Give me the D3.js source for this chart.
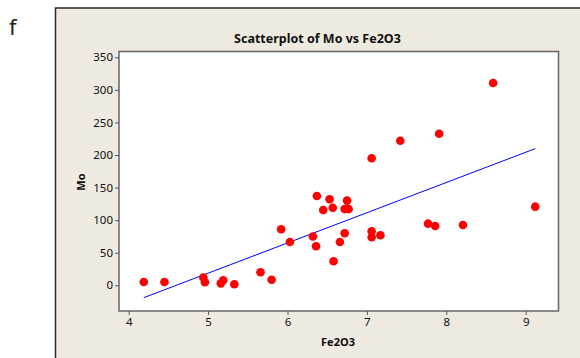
<!DOCTYPE html>
<meta charset="utf-8">
<script src="https://d3js.org/d3.v7.min.js"></script>
<title>Scatterplot of Mo vs Fe2O3</title>
<style>
body { margin: 0; background: #fff; }
svg { font-family: "Noto Sans", "Open Sans", sans-serif; }
</style>
<svg width="580" height="358"></svg>
<script>

// data
var fe2o3 = [4.19, 4.45, 4.94, 4.96, 5.16, 5.19, 5.33, 5.66, 5.80, 5.92,
             6.03, 6.32, 6.36, 6.37, 6.53, 6.45, 6.57, 6.75, 6.72, 6.77,
             6.72, 6.66, 6.58, 7.06, 7.06, 7.17, 7.77, 7.86, 8.21, 9.12,
             8.59, 7.91, 7.42, 7.06];
var mo = [5, 5, 12, 4.6, 3, 7.7, 1.5, 20, 8.6, 86,
          66.5, 75, 60, 137, 132, 115.6, 119, 130, 117, 117,
          80, 66.5, 37, 83, 73.7, 76.8, 94.6, 91, 92.6, 120.7,
          310.6, 232.7, 222, 195];
var xTicks = [4, 5, 6, 7, 8, 9];
var yTicks = [0, 50, 100, 150, 200, 250, 300, 350];
// fitted line Mo = a + b * Fe2O3
var fitIntercept = -213.4, fitSlope = 46.4;

var svg = d3.select("svg");

// panel
svg.append("rect")
    .attr("x", 55.5).attr("y", 8)
    .attr("width", 540).attr("height", 360)
    .attr("fill", "#eeeae0")
    .attr("stroke", "#2a2a2a")
    .attr("stroke-width", 1.5);

svg.append("text")
    .attr("x", 9).attr("y", 35)
    .attr("font-size", 22)
    .attr("fill", "#222")
    .text("f");

var pLeft = 119, pRight = 558.5, pTop = 51.5, pBottom = 311;

var x = d3.scaleLinear().domain([4, 9]).range([128.7, 525.7]);
x.domain([x.invert(pLeft), x.invert(pRight)]).range([pLeft, pRight]);
var y = d3.scaleLinear().domain([0, 350]).range([285.3, 57.3]);
y.domain([y.invert(pBottom), y.invert(pTop)]).range([pBottom, pTop]);

svg.append("rect")
    .attr("x", pLeft).attr("y", pTop)
    .attr("width", pRight - pLeft).attr("height", pBottom - pTop)
    .attr("fill", "#fff")
    .attr("stroke", "#666")
    .attr("stroke-width", 1.5);

svg.append("text")
    .attr("x", 317.5).attr("y", 43)
    .attr("text-anchor", "middle")
    .attr("font-size", 12.5)
    .attr("font-weight", "bold")
    .attr("fill", "#111")
    .text("Scatterplot of Mo vs Fe2O3");

var xAxis = svg.append("g")
    .attr("transform", "translate(0," + pBottom + ")")
    .call(d3.axisBottom(x).tickValues(xTicks).tickSize(4).tickPadding(3).tickFormat(d3.format("d")));
var yAxis = svg.append("g")
    .attr("transform", "translate(" + pLeft + ",0)")
    .call(d3.axisLeft(y).tickValues(yTicks).tickSize(4).tickPadding(2).tickFormat(d3.format("d")));

[xAxis, yAxis].forEach(function(a) {
  a.select(".domain").remove();
  a.selectAll("line").attr("stroke", "#555");
  a.selectAll("text").attr("font-size", 11.5).attr("fill", "#111")
      .attr("font-family", "'Noto Sans', sans-serif");
});

svg.append("text")
    .attr("x", 338).attr("y", 346)
    .attr("text-anchor", "middle")
    .attr("font-size", 11)
    .attr("font-weight", "bold")
    .attr("fill", "#111")
    .text("Fe2O3");

svg.append("text")
    .attr("transform", "translate(85,182) rotate(-90)")
    .attr("text-anchor", "middle")
    .attr("font-size", 11)
    .attr("font-weight", "bold")
    .attr("fill", "#111")
    .text("Mo");

// regression line over data range
var xr = d3.extent(fe2o3);
svg.append("line")
    .attr("x1", x(xr[0])).attr("y1", y(fitIntercept + fitSlope * xr[0]))
    .attr("x2", x(xr[1])).attr("y2", y(fitIntercept + fitSlope * xr[1]))
    .attr("stroke", "#0000ff")
    .attr("stroke-width", 1);

svg.append("g").selectAll("circle")
    .data(fe2o3.map(function(d, i) { return [d, mo[i]]; }))
    .join("circle")
      .attr("cx", function(d) { return x(d[0]); })
      .attr("cy", function(d) { return y(d[1]); })
      .attr("r", 4.3)
      .attr("fill", "#ff0000");

</script>
